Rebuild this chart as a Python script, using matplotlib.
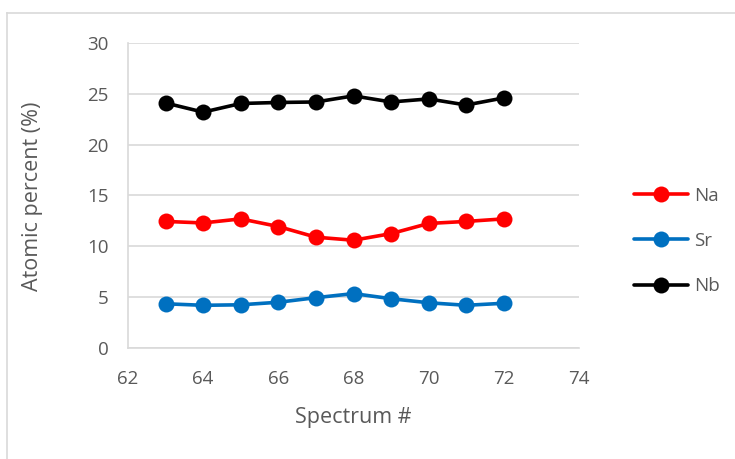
import matplotlib
matplotlib.use("Agg")
import matplotlib.pyplot as plt
from matplotlib.lines import Line2D

spectrum = [63, 64, 65, 66, 67, 68, 69, 70, 71, 72]
na = [12.45, 12.3, 12.7, 11.95, 10.9, 10.6, 11.25, 12.25, 12.45, 12.7]
sr = [4.35, 4.2, 4.25, 4.5, 4.95, 5.35, 4.85, 4.45, 4.2, 4.4]
nb = [24.1, 23.2, 24.05, 24.15, 24.2, 24.8, 24.2, 24.5, 23.9, 24.6]

series_names = ["Na", "Sr", "Nb"]
series_colors = ["#FF0000", "#0070C0", "#000000"]

xticks = [62, 64, 66, 68, 70, 72, 74]
yticks = [0, 5, 10, 15, 20, 25, 30]

plt.rcParams["font.family"] = ["Open Sans", "DejaVu Sans"]
text_color = "#595959"
grid_color = "#D9D9D9"

W, H = 735, 459
fig = plt.figure(figsize=(W / 100, H / 100), dpi=100)
x0, x1, y0, y1 = 128, 579, 348, 43
ax = fig.add_axes([x0 / W, 1 - y0 / H, (x1 - x0) / W, (y0 - y1) / H])

handles = []
for name, vals, col in zip(series_names, [na, sr, nb], series_colors):
    h, = ax.plot(spectrum, vals, color=col, lw=2.6, marker="o", ms=11.5,
                 markeredgewidth=0, label=name, solid_capstyle="round", zorder=3)
    handles.append(h)

ax.set_xlim(62, 74)
ax.set_ylim(0, 30)
ax.set_xticks(xticks)
ax.set_yticks(yticks)
ax.yaxis.grid(True, color=grid_color, lw=1.2)
ax.set_axisbelow(True)
for s in ["top", "right"]:
    ax.spines[s].set_visible(False)
for s in ["left", "bottom"]:
    ax.spines[s].set_color(grid_color)
    ax.spines[s].set_linewidth(1.2)
ax.tick_params(length=0, labelsize=13.5, colors=text_color)
ax.tick_params(axis="x", pad=16)
ax.tick_params(axis="y", pad=14)
ax.set_xlabel("Spectrum #", fontsize=15.5, color=text_color)
ax.set_ylabel("Atomic percent (%)", fontsize=15.5, color=text_color)
ax.xaxis.set_label_coords((353 - x0) / (x1 - x0), -(418 - y0) / (y0 - y1), transform=ax.transAxes)
ax.yaxis.set_label_coords(-(x0 - 33) / (x1 - x0), (y0 - 196) / (y0 - y1), transform=ax.transAxes)
ax.xaxis.label.set_va("center")
ax.yaxis.label.set_va("center")

leg = fig.legend(handles, series_names, loc="center left",
                 bbox_to_anchor=(617 / W, 1 - 241 / H), frameon=False,
                 fontsize=13.5, labelcolor=text_color, handlelength=2.9,
                 labelspacing=1.45, handletextpad=0.3)

# chart area frame
fig.add_artist(Line2D([7 / W, 7 / W], [0, 1 - 13 / H],
                      transform=fig.transFigure, color=grid_color, lw=1.2))
fig.add_artist(Line2D([7 / W, 1], [1 - 13 / H, 1 - 13 / H],
                      transform=fig.transFigure, color=grid_color, lw=1.2))

fig.savefig("out.png", dpi=100)
